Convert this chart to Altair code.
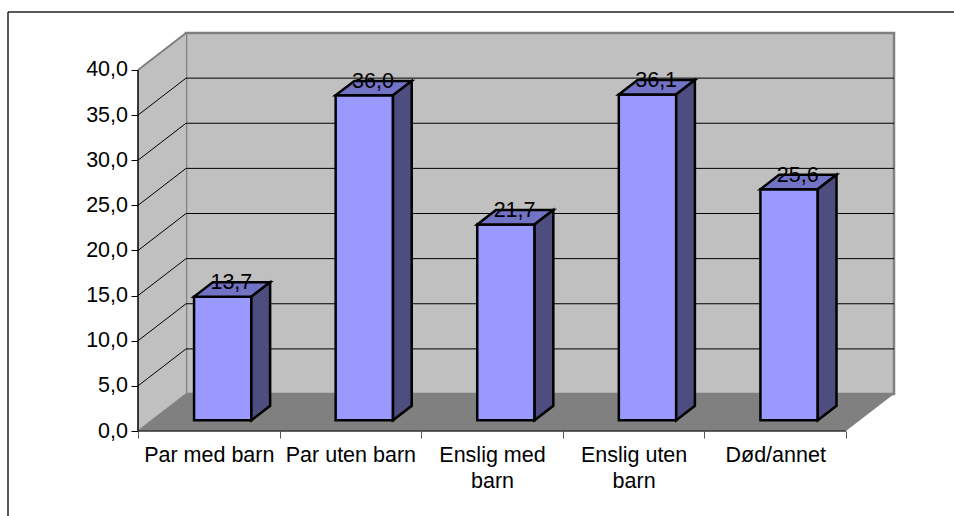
import altair as alt
import pandas as pd

categories = [["Par med barn"], ["Par uten barn"], ["Enslig med", "barn"], ["Enslig uten", "barn"], ["Død/annet"]]
values = [13.7, 36.0, 21.7, 36.1, 25.6]
value_labels = ["13,7", "36,0", "21,7", "36,1", "25,6"]
grid_levels = [5, 10, 15, 20, 25, 30, 35]

# Oblique projection: a point at depth z (0 front, 1 back) shifts right and up.
DX = 48 / 141.5
DY = 37 / 9.03
TOP = 40.0
N = len(categories)
BAR_W = 0.405
Z_FRONT, Z_BACK = 0.29, 0.68
Z_LABEL = 0.47

WALL = "#C0C0C0"
FLOOR = "#808080"
EDGE = "#808080"
FRONT = "#9999FF"
TOP_FACE = "#7373C6"
SIDE = "#4D4D80"
FONT = "Liberation Sans"
FS = 21.5

# Category names sit at band centres, ticks on the band boundaries
entries = []
for i, lines in enumerate(categories):
    text = "['" + "','".join(lines) + "']"
    entries.append(f"datum.value === {i + 0.5} ? {text} : ")
label_expr = "".join(entries) + "''"

X = alt.X("x:Q", scale=alt.Scale(domain=[0, N + DX], nice=False, zero=False), axis=alt.Axis(
    values=[k / 2 for k in range(2 * N + 1)], title=None, domain=False, grid=False,
    labelExpr=label_expr, labelFont=FONT, labelFontSize=FS, labelColor="#000000",
    labelLineHeight=26, labelPadding=6, labelOverlap=False, labelBound=False, labelFlush=False,
    tickColor="#555555", tickSize=7, tickWidth=1,
    tickOpacity={"condition": {"test": "datum.value % 1 === 0", "value": 1}, "value": 0},
))
Y = alt.Y("y:Q", scale=alt.Scale(domain=[0, TOP + DY], nice=False, zero=False), axis=alt.Axis(
    values=[5 * k for k in range(9)], title=None, domain=False, grid=False,
    labelExpr="replace(format(datum.value, '.1f'), '.', ',')",
    labelFont=FONT, labelFontSize=FS, labelColor="#000000", labelPadding=3.5,
    labelOverlap=False, labelBound=False, labelFlush=False,
    tickColor="#000000", tickSize=7, tickWidth=1,
))

# Walls and floor
back_wall = alt.Chart(pd.DataFrame([{"x": DX, "x2": N + DX, "y": DY, "y2": TOP + DY}])).mark_rect(
    fill=WALL, stroke=EDGE, strokeWidth=2.5
).encode(X, x2="x2:Q", y=Y, y2="y2:Q")

left_wall = alt.Chart(pd.DataFrame([
    {"x": 0, "y": 0, "y2": TOP}, {"x": DX, "y": DY, "y2": TOP + DY}
])).mark_area(fill=WALL, orient="vertical").encode(X, y=Y, y2="y2:Q")

floor = alt.Chart(pd.DataFrame([
    {"y": 0, "x": 0, "x2": N}, {"y": DY, "x": DX, "x2": N + DX}
])).mark_area(fill=FLOOR, orient="horizontal").encode(x=X, x2="x2:Q", y=Y)

# Gridlines: along the back wall and across the left wall
grid_rows = []
for v in grid_levels:
    grid_rows += [
        {"g": v, "x": 0, "y": v}, {"g": v, "x": DX, "y": v + DY}, {"g": v, "x": N + DX, "y": v + DY},
    ]
grid = alt.Chart(pd.DataFrame(grid_rows)).mark_line(color="#000000", strokeWidth=1).encode(
    X, Y, detail="g:N", order="x:Q"
)

top_edge = alt.Chart(pd.DataFrame([{"x": 0, "y": TOP}, {"x": DX, "y": TOP + DY}])).mark_line(
    color=EDGE, strokeWidth=2
).encode(X, Y, order="x:Q")

floor_edge = alt.Chart(pd.DataFrame([{"x": 0, "y": 0}, {"x": DX, "y": DY}])).mark_line(
    color=EDGE, strokeWidth=1.5
).encode(X, Y, order="x:Q")

front_axis = alt.Chart(pd.DataFrame([{"x": 0, "y": 0}, {"x": 0, "y": TOP}])).mark_line(
    color="#000000", strokeWidth=1.5
).encode(X, Y, order="y:Q")

base_axis = alt.Chart(pd.DataFrame([{"x": 0, "y": 0}, {"x": N, "y": 0}])).mark_line(
    color="#333333", strokeWidth=1.5
).encode(X, Y, order="x:Q")

# Bars: front, top and side faces derived from the values
front_rows, top_rows, side_rows, label_rows = [], [], [], []
for i, (v, lab) in enumerate(zip(values, value_labels)):
    x0 = i + 0.5 - BAR_W / 2
    x1 = i + 0.5 + BAR_W / 2
    fx, bx = Z_FRONT * DX, Z_BACK * DX
    fy, by = Z_FRONT * DY, Z_BACK * DY
    front_rows.append({"i": i, "x": x0 + fx, "x2": x1 + fx, "y": fy, "y2": v + fy})
    top_rows += [
        {"i": i, "y": v + fy, "x": x0 + fx, "x2": x1 + fx},
        {"i": i, "y": v + by, "x": x0 + bx, "x2": x1 + bx},
    ]
    side_rows += [
        {"i": i, "x": x1 + fx, "y": fy, "y2": v + fy},
        {"i": i, "x": x1 + bx, "y": by, "y2": v + by},
    ]
    label_rows.append({"x": i + 0.5 + Z_LABEL * DX, "y": v + Z_LABEL * DY, "t": lab})

BAR_STROKE = dict(stroke="#000000", strokeWidth=2.5, strokeJoin="miter")

bar_front = alt.Chart(pd.DataFrame(front_rows)).mark_rect(fill=FRONT, **BAR_STROKE).encode(
    X, x2="x2:Q", y=Y, y2="y2:Q"
)
bar_top = alt.Chart(pd.DataFrame(top_rows)).mark_area(fill=TOP_FACE, orient="horizontal", **BAR_STROKE).encode(
    x=X, x2="x2:Q", y=Y, detail="i:N"
)
bar_side = alt.Chart(pd.DataFrame(side_rows)).mark_area(fill=SIDE, orient="vertical", **BAR_STROKE).encode(
    x=X, y=Y, y2="y2:Q", detail="i:N"
)
labels = alt.Chart(pd.DataFrame(label_rows)).mark_text(
    font=FONT, fontSize=FS, color="#000000", baseline="alphabetic", align="center", dy=-1
).encode(X, Y, text="t:N")

# Frame: top and left edges of the chart area
frame_top = alt.Chart(pd.DataFrame([{"a": 0}])).mark_rule(color="#222222", strokeWidth=1.5, clip=False).encode(
    x=alt.value(-130), x2=alt.value(816), y=alt.value(-21)
)
frame_left = alt.Chart(pd.DataFrame([{"a": 0}])).mark_rule(color="#222222", strokeWidth=1.5, clip=False).encode(
    x=alt.value(-130), y=alt.value(-21), y2=alt.value(483)
)

chart = alt.layer(
    back_wall, left_wall, floor, grid, top_edge, floor_edge, front_axis, base_axis,
    bar_front, bar_top, bar_side, labels, frame_top, frame_left,
).properties(
    width=756, height=398,
    padding={"left": 138, "top": 33, "right": 60, "bottom": 85},
    autosize=alt.AutoSizeParams(type="none"),
    background="#FFFFFF",
).configure_view(stroke=None)

chart.save("out.html", embed_options={"renderer": "svg", "actions": False})
